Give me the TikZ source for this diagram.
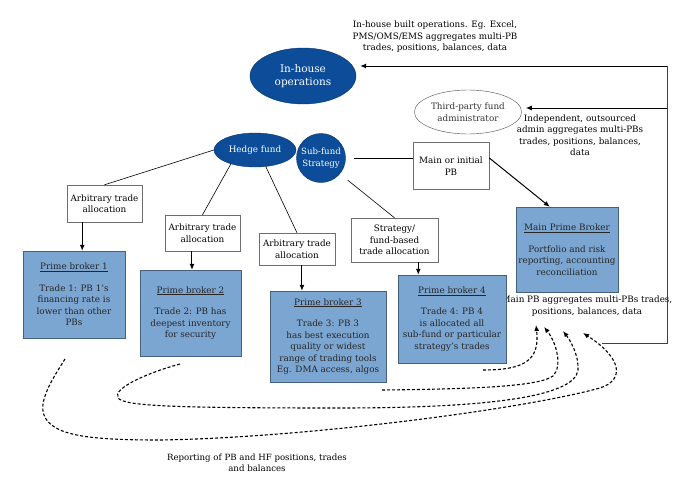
\documentclass[tikz,border=0pt]{standalone}
\usepackage{fontspec}
\setmainfont{DejaVu Serif}
\usetikzlibrary{shapes.geometric,arrows.meta}
\definecolor{hfblue}{RGB}{12,76,152}
\definecolor{pbblue}{RGB}{124,166,210}
\definecolor{pbedge}{RGB}{70,96,125}
\definecolor{boxedge}{RGB}{110,110,110}

\begin{document}
\begin{tikzpicture}[x=1pt,y=-1pt,
    every node/.style={font=\fontsize{8.8}{11.5}\selectfont,align=center,inner sep=1pt},
    blob/.style={ellipse,draw=hfblue!70!black,fill=hfblue,text=white},
    alloc/.style={rectangle,draw=boxedge,fill=white},
    pb/.style={rectangle,draw=pbedge,fill=pbblue,text=black!85},
    arr/.style={-{Latex[length=6pt,width=5pt]},line width=1pt},
    rep/.style={-{Latex[length=6pt,width=5pt]},dash pattern=on 3pt off 2pt,line width=1.1pt}]
    \useasboundingbox (0,0) rectangle (689,482);

    % aggregation side
    \node[blob,minimum width=106,minimum height=56,font=\fontsize{10.5}{13}\selectfont] (inhouse) at (303,76) {In-house\\operations};
    \node (topnote) at (435,37) {In-house built operations. Eg. Excel,\\PMS/OMS/EMS aggregates multi-PB\\trades, positions, balances, data};
    \node[ellipse,draw=black!70,minimum width=98,minimum height=44,text=black!80] (tpa) at (468,112) {Third-party fund\\administrator};
    \node (indnote) at (580,135) {Independent, outsourced\\admin aggregates multi-PBs\\trades, positions, balances,\\data};

    % fund
    \node[blob,minimum width=82,minimum height=34] (hf) at (255,150) {Hedge fund};
    \node[blob,circle,minimum size=49,inner sep=-3pt,font=\fontsize{8.6}{11.5}\selectfont] (sub) at (321,158) {Sub-fund\\Strategy};
    \node[alloc,minimum width=76,minimum height=47] (mainini) at (451,166) {Main or initial\\PB};
    \node[pb,minimum width=102,minimum height=85] (mainpb) at (567,249.5) {\underline{Main Prime Broker}\\[10pt]Portfolio and risk\\reporting, accounting\\reconciliation};
    \node (mainagg) at (587,306) {Main PB aggregates multi-PBs trades,\\positions, balances, data};

    % allocations and brokers
    \node[alloc,minimum width=75,minimum height=37] (alloc1) at (104.5,203.5) {Arbitrary trade\\allocation};
    \node[pb,minimum width=102,minimum height=87] (pb1) at (74,294.5) {\underline{Prime broker 1}\\[10pt]Trade 1: PB 1's\\financing rate is\\lower than other\\PBs};
    \node[alloc,minimum width=75,minimum height=36] (alloc2) at (202.5,233) {Arbitrary trade\\allocation};
    \node[pb,minimum width=101,minimum height=86] (pb2) at (190.5,313) {\underline{Prime broker 2}\\[10pt]Trade 2: PB has\\deepest inventory\\for security};
    \node[alloc,minimum width=76,minimum height=32] (alloc3) at (297,249) {Arbitrary trade\\allocation};
    \node[pb,minimum width=116,minimum height=91] (pb3) at (328,336.5) {\underline{Prime broker 3}\\[10pt]Trade 3: PB 3\\has best execution\\quality or widest\\range of trading tools\\Eg. DMA access, algos};
    \node[alloc,minimum width=87,minimum height=44] (alloc4) at (394.5,240) {Strategy/\\fund-based\\trade allocation};
    \node[pb,minimum width=108,minimum height=88] (pb4) at (452,319) {\underline{Prime broker 4}\\[10pt]Trade 4: PB 4\\is allocated all\\sub-fund or particular\\strategy's trades};
    \node[font=\fontsize{8.6}{11.5}\selectfont] (repnote) at (257,463) {Reporting of PB and HF positions, trades\\and balances};

    \draw[line width=0.6pt] (hf.west) -- (alloc1.north);
    \draw[line width=0.6pt] (hf.210) -- (alloc2.north);
    \draw[line width=0.6pt] (hf.303) -- (alloc3.north);
    \draw[line width=0.6pt,shorten <=10pt] (sub.-40) -- (alloc4.north);
    \draw[line width=0.6pt,shorten <=8pt] (sub.east) -- (sub.east -| mainini.west);
    \draw[arr] (mainini.12) -- (mainpb.112);
    \draw[arr] (alloc1.220) -- (alloc1.220 |- pb1.north);
    \draw[arr] (alloc2.240) -- (alloc2.240 |- pb2.north);
    \draw[arr] (alloc3.287) -- (alloc3.287 |- pb3.north);
    \draw[arr] (alloc4.317) -- (alloc4.317 |- pb4.north);

    % feeds to in-house and administrator
    \coordinate (rtop) at (667,66);
    \coordinate (rmid) at (667,108);
    \coordinate (rend) at (602,343);
    \draw[black!75,line width=0.7pt] (rend) -- (rend -| rtop) -- (rtop);
    \draw[arr,shorten >=4pt] (rtop) -- (rtop -| inhouse.east);
    \draw[arr,shorten >=4pt] (rmid) -- (rmid -| tpa.east);

    % reporting back to main PB
    \coordinate (s1) at (483,370); \coordinate (t1) at (536,325);
    \coordinate (s2) at (382,390); \coordinate (t2) at (544,327);
    \coordinate (s3) at (180,364); \coordinate (t3) at (563,331);
    \coordinate (s4) at (65,359);  \coordinate (t4) at (583,333);
    \draw[rep] (s1) .. controls (525,370) and (540,360) .. (t1);
    \draw[rep] (s2) .. controls (480,389) and (540,386) .. (553,376) .. controls (563,366) and (556,342) .. (t2);
    \draw[rep] (s3) .. controls (150,372) and (112,388) .. (118,398) .. controls (125,406) and (170,408) .. (340,408)
        .. controls (480,408) and (575,398) .. (578,370) .. controls (579,355) and (570,340) .. (t3);
    \draw[rep] (s4) .. controls (55,375) and (38,400) .. (44,415) .. controls (52,436) and (90,440) .. (160,440)
        .. controls (300,438) and (520,410) .. (600,388) .. controls (625,380) and (622,358) .. (t4);
\end{tikzpicture}
\end{document}
